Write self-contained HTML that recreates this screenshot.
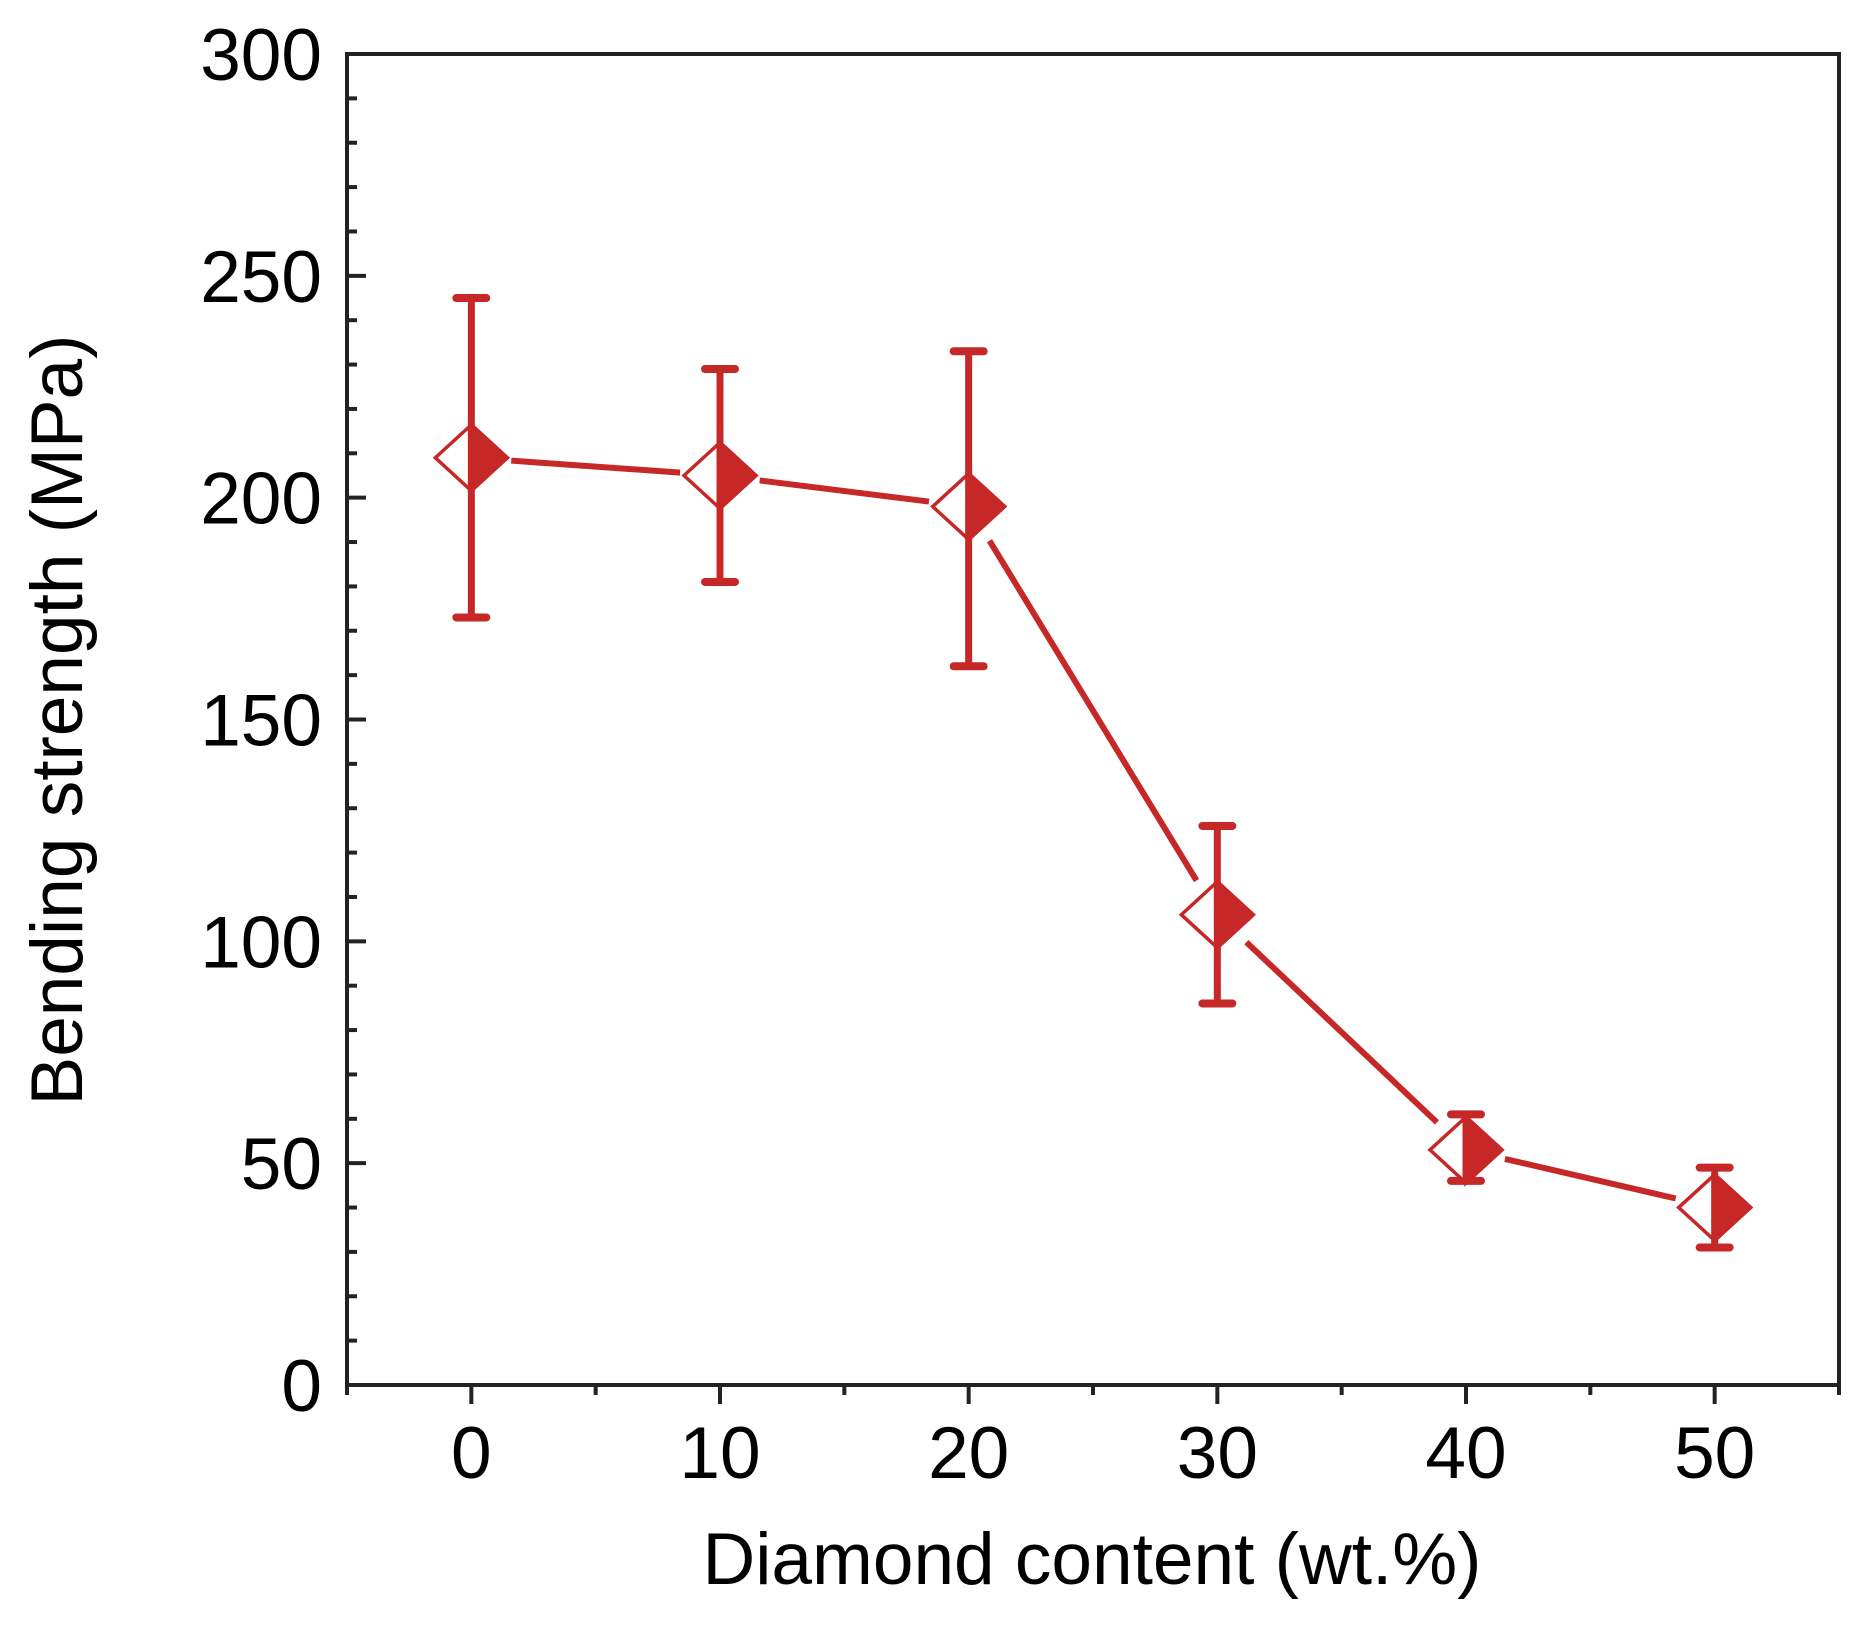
<!DOCTYPE html>
<html><head><meta charset="utf-8"><style>
html,body{margin:0;padding:0;background:#fff;}
svg{display:block;font-family:"Liberation Sans",Arial,sans-serif;}
</style></head><body>
<svg id="chart" width="1862" height="1625" viewBox="0 0 1862 1625" xmlns="http://www.w3.org/2000/svg">
<rect width="1862" height="1625" fill="#fff"/>
<g id="axes"></g>
<g id="series"></g>
<text x="1092" y="1584" font-size="73" text-anchor="middle" fill="#000">Diamond content (wt.%)</text>
<text transform="translate(82,720) rotate(-90)" font-size="73" text-anchor="middle" fill="#000">Bending strength (MPa)</text>
</svg>
<script>
const categories = [0, 10, 20, 30, 40, 50];
const strength = [209, 205, 198, 106, 53, 40];
const errLow = [173, 181, 162, 86, 46, 31];
const errHigh = [245, 229, 233, 126, 61, 49];
const xTicks = [0, 10, 20, 30, 40, 50];
const yTicks = [0, 50, 100, 150, 200, 250, 300];

const L=347,R=1839,T=54,B=1385;
const xMin=-5,xMax=55,yMin=0,yMax=300;
const sx=v=>L+(v-xMin)/(xMax-xMin)*(R-L);
const sy=v=>B-(v-yMin)/(yMax-yMin)*(B-T);
const NS='http://www.w3.org/2000/svg';
const red='#c62828';
function mk(tag,attrs,parent){const e=document.createElementNS(NS,tag);for(const k in attrs)e.setAttribute(k,attrs[k]);parent.appendChild(e);return e;}
const ax=document.getElementById('axes');
const frame=mk('rect',{x:L,y:T,width:R-L,height:B-T,fill:'none',stroke:'#222','stroke-width':4},ax);


for(let v=0;v<=300;v+=10){
  const major=v%50===0;
  const t=mk('line',{x1:L,x2:L+(major?19:10),y1:sy(v),y2:sy(v),stroke:'#222','stroke-width':4},ax);
  
  
}
yTicks.forEach(v=>{
  const t=mk('text',{x:322,y:sy(v)+26,'font-size':73,'text-anchor':'end',fill:'#000'},ax);
  t.textContent=v;
  
  
});
for(let v=-5;v<=55;v+=5){
  const major=v%10===0;
  const t=mk('line',{x1:sx(v),x2:sx(v),y1:B,y2:B+(major?19:10),stroke:'#222','stroke-width':4},ax);
  
  
}
xTicks.forEach(v=>{
  const t=mk('text',{x:sx(v),y:1478,'font-size':73,'text-anchor':'middle',fill:'#000'},ax);
  t.textContent=v;
  
  
});
const sg=document.getElementById('series');
const hw=36,hh=33;
for(let i=0;i<categories.length-1;i++){
  const x1=sx(categories[i]),y1=sy(strength[i]),x2=sx(categories[i+1]),y2=sy(strength[i+1]);
  const d=Math.hypot(x2-x1,y2-y1),g=40;
  const ux=(x2-x1)/d,uy=(y2-y1)/d;
  const s=mk('line',{x1:x1+ux*g,y1:y1+uy*g,x2:x2-ux*g,y2:y2-uy*g,stroke:red,'stroke-width':6},sg);
  
  
}
categories.forEach((c,i)=>{
  const x=sx(c),y=sy(strength[i]);
  const e=mk('line',{x1:x,x2:x,y1:sy(errHigh[i]),y2:sy(errLow[i]),stroke:red,'stroke-width':7},sg);
  
  
  [errHigh[i],errLow[i]].forEach(v=>{
    const cap=mk('line',{x1:x-15,x2:x+15,y1:sy(v),y2:sy(v),stroke:red,'stroke-width':8,'stroke-linecap':'round'},sg);
    
    
  });
  const o=mk('polygon',{points:`${x},${y-hh} ${x-hw},${y} ${x},${y+hh} ${x+hw},${y}`,fill:'#fff',stroke:red,'stroke-width':3.5},sg);
  
  
  const f=mk('polygon',{points:`${x},${y-hh} ${x+hw},${y} ${x},${y+hh}`,fill:red,stroke:red,'stroke-width':3.5},sg);
  
  
  const v=mk('line',{x1:x,x2:x,y1:y-hh,y2:y+hh,stroke:red,'stroke-width':7},sg);
  
  
});
</script>
</body></html>
